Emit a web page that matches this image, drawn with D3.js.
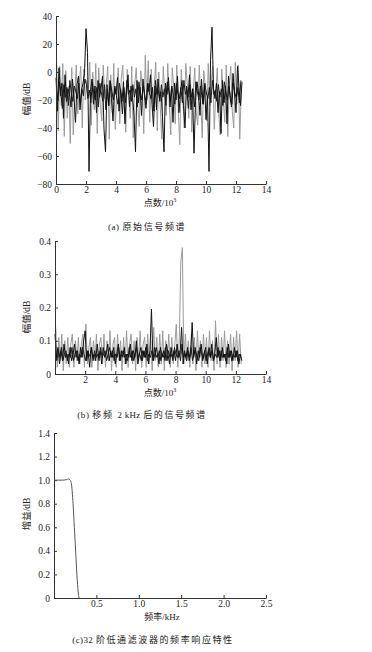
<!DOCTYPE html>
<html>
<head>
<meta charset="utf-8">
<script src="https://cdn.jsdelivr.net/npm/d3@7"></script>
<style>
  body { margin: 0; background: #fff; }
  text { font-family: "Liberation Serif", "Noto Sans CJK SC", serif; fill: #222; }
</style>
</head>
<body>
<div id="chart"></div>
<script>
// sampling step of the spectra (units of 10^3 points)
var step = 0.1;

// (a) original spectrum, dB
var aBlack = [
  -4,-28,3,-17,-8,-33,-2,-21,-12,-16,
  -25,-5,-19,-36,-9,-3,-27,-13,-8,-1,
  31,14,-71,-14,-5,-23,-10,-29,-6,-18,
  -12,-3,-41,-57,-9,-24,-6,-19,-35,-11,
  -16,-4,-28,-12,-21,-7,-37,-13,-2,-25,
  -10,-18,-30,-57,-6,-22,-11,-31,-5,-17,
  -26,-8,-14,-2,-23,-39,-10,-27,-5,-19,
  -14,-32,-57,-8,-16,-4,-25,-11,-36,-8,
  -20,-3,-29,-14,-6,-24,-40,-10,-18,-2,
  -27,-12,-58,-21,-7,-15,-31,-5,-23,-9,
  -34,-17,-71,8,32,-12,-19,-8,-29,-14,
  -44,-6,-22,-10,-37,-3,-18,-25,-1,-15,
  -29,4,-11,-24,-7
];
var aMid = [
  -12,-20,-7,-15,-26,-9,-18,-11,-24,-6,
  -16,-21,-10,-14,-19,-8,-23,-12,-17,-5,
  -9,-19,-13,-22,-7,-16,-20,-11,-25,-8,
  -15,-21,-9,-27,-12,-24,-7,-14,-20,-10,
  -17,-23,-8,-15,-30,-11,-22,-6,-16,-13,
  -21,-9,-18,-12,-25,-7,-14,-20,-10,-17,
  -23,-8,-15,-19,-11,-28,-6,-16,-13,-21,
  -9,-18,-12,-24,-7,-14,-20,-10,-17,-23,
  -8,-15,-19,-11,-22,-6,-16,-13,-26,-9,
  -18,-12,-25,-7,-14,-20,-10,-17,-23,-8,
  -15,-19,-11,-22,-6,-16,-13,-21,-9,-18,
  -12,-24,-7,-14,-20,-10,-17,-23,-8,-15,
  -19,-11,-22,-6
];
var aGray = [
  5,-42,4,-24,6,-46,1,-33,-10,-51,
  3,-45,-18,5,-30,-8,4,-40,2,-20,
  -6,-15,7,-38,0,-27,6,-44,3,-22,
  -35,5,-19,-9,4,-48,-2,-29,6,-41,
  -14,3,-37,-5,5,-26,-43,2,-16,-33,
  4,-47,-8,3,-24,-39,1,-12,-44,12,
  -20,8,-36,2,-28,-9,7,-42,0,-25,
  -48,4,-15,-31,6,-22,-45,3,-11,-37,
  5,-27,-52,2,-18,-40,6,-8,-33,4,
  -43,-13,3,-29,-38,5,-21,-47,1,-10,
  -35,6,-24,-6,4,-41,-16,3,-30,-45,
  2,-19,-36,5,-46,-9,4,-28,-40,7,
  -23,5,-48,-14
];

// (b) spectrum after 2 kHz shift
var bBlack = [
  0.12,0.05,0.08,0.03,0.07,0.04,0.09,0.05,0.06,0.03,
  0.08,0.04,0.06,0.09,0.05,0.07,0.03,0.08,0.05,0.10,
  0.13,0.04,0.07,0.02,0.08,0.05,0.06,0.04,0.09,0.05,
  0.07,0.03,0.08,0.05,0.06,0.09,0.04,0.07,0.05,0.08,
  0.03,0.06,0.09,0.04,0.07,0.05,0.08,0.03,0.06,0.05,
  0.09,0.04,0.07,0.05,0.10,0.03,0.06,0.08,0.04,0.07,
  0.05,0.09,0.03,0.07,0.195,0.04,0.08,0.05,0.06,0.03,
  0.08,0.05,0.07,0.04,0.09,0.06,0.03,0.08,0.05,0.07,
  0.04,0.09,0.05,0.06,0.14,0.03,0.07,0.05,0.08,0.04,
  0.06,0.155,0.05,0.08,0.03,0.07,0.05,0.09,0.04,0.06,
  0.08,0.03,0.07,0.05,0.09,0.04,0.06,0.11,0.05,0.07,
  0.04,0.08,0.05,0.06,0.03,0.09,0.05,0.07,0.04,0.08,
  0.05,0.07,0.03,0.06,0.04
];
var bMid = [
  0.06,0.04,0.07,0.05,0.08,0.04,0.06,0.07,0.04,0.06,
  0.05,0.08,0.04,0.06,0.07,0.04,0.06,0.05,0.08,0.06,
  0.04,0.07,0.05,0.06,0.08,0.04,0.07,0.05,0.06,0.04,
  0.08,0.05,0.06,0.07,0.04,0.06,0.08,0.05,0.07,0.04,
  0.06,0.05,0.08,0.04,0.06,0.07,0.05,0.06,0.04,0.08,
  0.05,0.07,0.04,0.06,0.08,0.05,0.06,0.04,0.07,0.05,
  0.08,0.04,0.06,0.05,0.07,0.04,0.06,0.08,0.05,0.07,
  0.04,0.06,0.05,0.08,0.04,0.07,0.05,0.06,0.04,0.08,
  0.06,0.05,0.07,0.04,0.09,0.05,0.06,0.04,0.07,0.05,
  0.08,0.04,0.06,0.07,0.05,0.04,0.08,0.06,0.05,0.07,
  0.04,0.06,0.08,0.05,0.07,0.04,0.06,0.05,0.08,0.04,
  0.07,0.05,0.06,0.04,0.08,0.05,0.07,0.04,0.06,0.05,
  0.07,0.04,0.06,0.05
];
var bGray = [
  0.14,0.02,0.11,0.04,0.12,0.01,0.10,0.03,0.11,0.02,
  0.09,0.12,0.02,0.10,0.04,0.11,0.03,0.09,0.12,0.02,
  0.15,0.03,0.08,0.11,0.02,0.10,0.04,0.12,0.01,0.09,
  0.11,0.03,0.12,0.02,0.10,0.04,0.13,0.01,0.09,0.11,
  0.02,0.12,0.04,0.10,0.01,0.11,0.03,0.13,0.02,0.09,
  0.12,0.03,0.10,0.01,0.11,0.04,0.13,0.02,0.09,0.11,
  0.02,0.12,0.03,0.10,0.01,0.14,0.04,0.11,0.02,0.12,
  0.03,0.13,0.01,0.10,0.04,0.12,0.02,0.11,0.03,0.09,
  0.15,0.02,0.11,0.34,0.38,0.03,0.12,0.04,0.10,0.02,
  0.12,0.03,0.11,0.01,0.13,0.04,0.10,0.02,0.12,0.03,
  0.11,0.02,0.13,0.04,0.10,0.01,0.16,0.03,0.12,0.02,
  0.11,0.04,0.13,0.02,0.10,0.03,0.12,0.01,0.11,0.04,
  0.13,0.02,0.12,0.03
];

// (c) 32-order low-pass filter response
var cFreq = [0, 0.05, 0.1, 0.15, 0.17, 0.19, 0.205, 0.215, 0.225, 0.24, 0.255, 0.27, 0.285, 0.295];
var cGain = [1.0, 1.0, 1.0, 1.005, 1.01, 1.0, 0.97, 0.9, 0.8, 0.6, 0.4, 0.2, 0.05, 0];

var aXTicks = [0, 2, 4, 6, 8, 10, 12, 14];
var aYTicks = [-80, -60, -40, -20, 0, 20, 40];
var bXTicks = [2, 4, 6, 8, 10, 12, 14];
var bYTicks = [0, 0.1, 0.2, 0.3, 0.4];
var cXTicks = [0.5, 1.0, 1.5, 2.0, 2.5];
var cYTicks = [0, 0.2, 0.4, 0.6, 0.8, 1.0, 1.2, 1.4];

var svg = d3.select("#chart").append("svg")
  .attr("width", 372).attr("height", 652);

function toPoints(vals, offset) {
  return vals.map(function(v, i) { return [offset + i * step, v]; });
}

function drawAxes(g, x, y, xTicks, yTicks, xFmt, yFmt, h) {
  g.append("g")
    .attr("transform", "translate(0," + h + ")")
    .call(d3.axisBottom(x).tickValues(xTicks).tickSize(-3).tickSizeOuter(0).tickPadding(2).tickFormat(xFmt));
  g.append("g")
    .call(d3.axisLeft(y).tickValues(yTicks).tickSize(-3).tickSizeOuter(0).tickPadding(4).tickFormat(yFmt));
  g.selectAll(".domain").attr("stroke", "#333");
  g.selectAll(".tick line").attr("stroke", "#333");
  g.selectAll(".tick text").attr("font-size", 9.5).attr("font-family", "Liberation Serif").attr("fill", "#222");
}

function label(txt, x, y, rot, size) {
  var t = svg.append("text")
    .attr("text-anchor", "middle")
    .attr("font-size", size || 9.5)
    .attr("transform", "translate(" + x + "," + y + ")" + (rot ? " rotate(-90)" : ""));
  return t.text(txt);
}

function xLabel103(x, y) {
  var t = svg.append("text").attr("x", x).attr("y", y)
    .attr("text-anchor", "middle").attr("font-size", 9);
  t.append("tspan").text("点数/10");
  t.append("tspan").attr("font-size", 6).attr("dy", -4).text("3");
}

// caption parts: [text, letter-spacing]
function caption(parts, x, y) {
  var t = svg.append("text").attr("x", x).attr("y", y)
    .attr("text-anchor", "middle").attr("font-size", 9);
  parts.forEach(function(p) {
    t.append("tspan").attr("letter-spacing", p[1]).text(p[0]);
  });
}

function spectrum(g, x, y, series) {
  var ln = d3.line().x(function(d) { return x(d[0]); }).y(function(d) { return y(d[1]); });
  series.forEach(function(s) {
    g.append("path").attr("d", ln(toPoints(s.vals, s.offset)))
      .attr("fill", "none").attr("stroke", s.color).attr("stroke-width", 1);
  });
}

// ---- panel a
(function() {
  var left = 56, right = 266, top = 16, bottom = 184;
  var x = d3.scaleLinear().domain([0, 14]).range([0, right - left]);
  var y = d3.scaleLinear().domain([-80, 40]).range([bottom - top, 0]);
  var g = svg.append("g").attr("transform", "translate(" + left + "," + top + ")");
  spectrum(g, x, y, [
    {vals: aGray, offset: step / 2, color: "#9a9a9a"},
    {vals: aMid, offset: step / 4, color: "#1a1a1a"},
    {vals: aBlack, offset: 0, color: "#111"}
  ]);
  drawAxes(g, x, y, aXTicks, aYTicks, d3.format("d"), d3.format("d"), bottom - top);
  label("幅值/dB", 30, 99, true);
  xLabel103(160, 206);
  caption([["(a) ", 0.6], ["原始信号频谱", 1.6]], 147, 230);
})();

// ---- panel b
(function() {
  var left = 55, right = 266, top = 241, bottom = 374;
  var x = d3.scaleLinear().domain([0, 14]).range([0, right - left]);
  var y = d3.scaleLinear().domain([0, 0.4]).range([bottom - top, 0]);
  var g = svg.append("g").attr("transform", "translate(" + left + "," + top + ")");
  spectrum(g, x, y, [
    {vals: bGray, offset: step / 2, color: "#9a9a9a"},
    {vals: bMid, offset: step / 4, color: "#1a1a1a"},
    {vals: bBlack, offset: 0, color: "#111"}
  ]);
  drawAxes(g, x, y, bXTicks, bYTicks, d3.format("d"), function(d) { return d === 0 ? "0" : d3.format(".1f")(d); }, bottom - top);
  label("幅值/dB", 30, 317, true);
  xLabel103(160, 396);
  caption([["(b) ", 0.6], ["移频 ", 1.6], ["2 kHz ", 0.3], ["后的信号频谱", 1.6]], 142, 418);
})();

// ---- panel c
(function() {
  var left = 54, right = 266, top = 433, bottom = 598;
  var x = d3.scaleLinear().domain([0, 2.5]).range([0, right - left]);
  var y = d3.scaleLinear().domain([0, 1.4]).range([bottom - top, 0]);
  var g = svg.append("g").attr("transform", "translate(" + left + "," + top + ")");
  var pts = cFreq.map(function(f, i) { return [f, cGain[i]]; });
  var ln = d3.line().curve(d3.curveMonotoneX)
    .x(function(d) { return x(d[0]); }).y(function(d) { return y(d[1]); });
  drawAxes(g, x, y, cXTicks, cYTicks, d3.format(".1f"), function(d) { return d === 0 ? "0" : d3.format(".1f")(d); }, bottom - top);
  g.append("path").attr("d", ln(pts))
    .attr("fill", "none").attr("stroke", "#555").attr("stroke-width", 1);
  label("增益/dB", 30, 514, true);
  label("频率/kHz", 162, 620, false, 9);
  caption([["(c)32 ", 0.4], ["阶低通滤波器的频率响应特性", 1.6]], 153, 643);
})();
</script>
</body>
</html>
